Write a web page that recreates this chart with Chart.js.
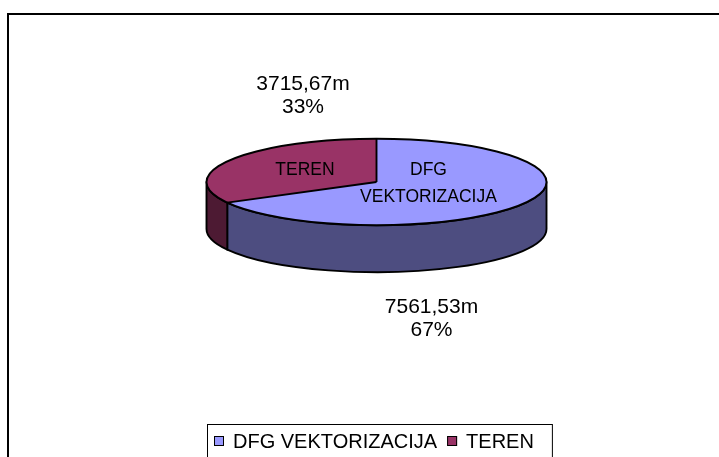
<!DOCTYPE html>
<html>
<head>
<meta charset="utf-8">
<script src="https://cdn.jsdelivr.net/npm/chart.js@4.4.1/dist/chart.umd.min.js"></script>
<style>
  html, body { margin: 0; padding: 0; background: #fff; }
  canvas { display: block; }
</style>
</head>
<body>
<canvas id="myChart" width="719" height="457"></canvas>
<script>
// data
const categories = ['DFG VEKTORIZACIJA', 'TEREN'];
const lengths = [7561.53, 3715.67];

const topColors = ['#9999FF', '#993366'];
const sideColors = ['#4D4D80', '#4D1A33'];
const fontFamily = '"Liberation Sans", Arial, sans-serif';

const tilt = 0.254;   // vertical squash of the pie
const depth = 47;     // height of the pie wall

// label placement, relative to the pie centre
const innerOffsets = [[52, 1.5], [-71.5, -12]];
const outerOffsets = [[55, 136.5], [-73.5, -86]];

function fmtLen(v) {
    return v.toFixed(2).replace('.', ',') + 'm';
}

function frontParts(s, e) {
    const parts = [];
    for (let k = -1; k <= 1; k++) {
        const a = Math.max(s, 2 * Math.PI * k);
        const b = Math.min(e, 2 * Math.PI * k + Math.PI);
        if (b > a) parts.push([a, b]);
    }
    return parts;
}

const pie3d = {
    id: 'pie3d',
    beforeDatasetsDraw(chart) {
        const ctx = chart.ctx;
        const arcs = chart.getDatasetMeta(0).data;
        const cx = arcs[0].x, cy = arcs[0].y, r = arcs[0].outerRadius, ry = r * tilt;

        // walls of the cylinder
        ctx.save();
        ctx.lineWidth = 1.9;
        ctx.strokeStyle = '#000';
        ctx.lineJoin = 'round';
        arcs.forEach((arc, i) => {
            frontParts(arc.startAngle, arc.endAngle).forEach(([s, e]) => {
                ctx.beginPath();
                ctx.ellipse(cx, cy, r, ry, 0, s, e);
                ctx.ellipse(cx, cy + depth, r, ry, 0, e, s, true);
                ctx.closePath();
                ctx.fillStyle = sideColors[i];
                ctx.fill();
                ctx.stroke();
            });
        });
        ctx.restore();

        // squash the top face drawn by Chart.js
        ctx.save();
        ctx.translate(cx, cy);
        ctx.scale(1, tilt);
        ctx.translate(-cx, -cy);
    },
    afterDatasetsDraw(chart) {
        const ctx = chart.ctx;
        ctx.restore();

        const arcs = chart.getDatasetMeta(0).data;
        const cx = arcs[0].x, cy = arcs[0].y, r = arcs[0].outerRadius, ry = r * tilt;

        // outline of the top face
        ctx.save();
        ctx.lineWidth = 1.9;
        ctx.strokeStyle = '#000';
        ctx.beginPath();
        ctx.ellipse(cx, cy, r, ry, 0, 0, Math.PI * 2);
        ctx.stroke();
        arcs.forEach(arc => {
            ctx.beginPath();
            ctx.moveTo(cx, cy);
            ctx.lineTo(cx + r * Math.cos(arc.startAngle), cy + ry * Math.sin(arc.startAngle));
            ctx.stroke();
        });

        // labels
        const total = lengths.reduce((a, b) => a + b, 0);
        ctx.fillStyle = '#000';
        ctx.textAlign = 'center';
        ctx.textBaseline = 'middle';
        categories.forEach((name, i) => {
            ctx.font = '17.5px ' + fontFamily;
            const words = name.split(' ');
            const lh = 27;
            words.forEach((w, j) => {
                ctx.fillText(w, cx + innerOffsets[i][0],
                    cy + innerOffsets[i][1] + (j - (words.length - 1) / 2) * lh);
            });

            ctx.font = '21px ' + fontFamily;
            const pct = Math.round(lengths[i] / total * 100) + '%';
            const ox = cx + outerOffsets[i][0], oy = cy + outerOffsets[i][1];
            ctx.fillText(fmtLen(lengths[i]), ox, oy - 11.5);
            ctx.fillText(pct, ox, oy + 11.5);
        });
        ctx.restore();
    },
    afterDraw(chart) {
        const ctx = chart.ctx;
        ctx.save();

        // legend
        ctx.font = '20px ' + fontFamily;
        ctx.textBaseline = 'middle';
        ctx.textAlign = 'left';
        const boxLeft = 207, boxTop = 424, legY = 441;
        let x = boxLeft + 7;
        categories.forEach((name, i) => {
            ctx.fillStyle = topColors[i];
            ctx.fillRect(x, legY - 5, 10, 10);
            ctx.lineWidth = 1;
            ctx.strokeStyle = '#000';
            ctx.strokeRect(x + 0.5, legY - 4.5, 9, 9);
            ctx.fillStyle = '#000';
            ctx.fillText(name, x + 19, legY + 1);
            x += 19 + ctx.measureText(name).width + 10;
        });
        ctx.lineWidth = 1;
        ctx.strokeStyle = '#000';
        ctx.strokeRect(boxLeft + 0.5, boxTop + 0.5, x - boxLeft + 8, 80);

        // outer frame
        ctx.lineWidth = 2;
        ctx.strokeRect(8, 14, 900, 900);
        ctx.restore();
    }
};

const ctx = document.getElementById('myChart').getContext('2d');
const myChart = new Chart(ctx, {
    type: 'pie',
    data: {
        labels: categories,
        datasets: [{
            data: lengths,
            backgroundColor: topColors,
            borderWidth: 0,
            hoverOffset: 0,
            clip: false
        }]
    },
    options: {
        responsive: false,
        animation: false,
        events: [],
        layout: {
            padding: { left: 206.5, right: 172.5, top: 11, bottom: 104 }
        },
        plugins: {
            legend: { display: false },
            tooltip: { enabled: false }
        }
    },
    plugins: [pie3d]
});
</script>
</body>
</html>
